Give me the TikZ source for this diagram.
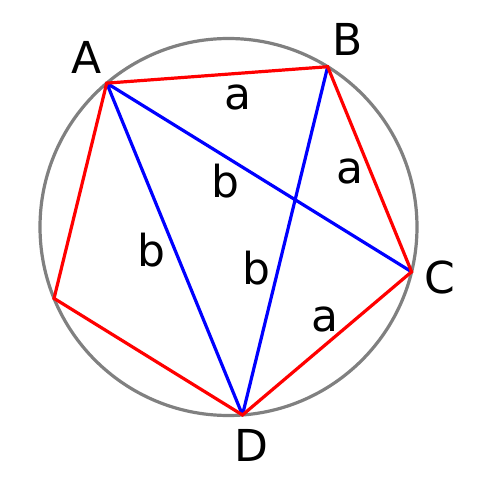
\documentclass[tikz,border=0pt]{standalone}
\usepackage{fontspec}
\setmainfont{DejaVu Sans}
\begin{document}
\begin{tikzpicture}[x=1pt, y=1pt, line width=3.2pt,
	etiquette/.style={inner sep=0pt, font=\fontsize{44}{50}\selectfont}]
	%\draw[help lines] (-228,-253) grid (251,227);
	\useasboundingbox (-228.5,-253) rectangle (251.5,227);
	\draw[gray] (0,0) circle (188.5);
	\coordinate (A) at (130.25:188.5);
	\coordinate (B) at (58.25:188.5);
	\coordinate (C) at (-13.75:188.5);
	\coordinate (D) at (-85.75:188.5);
	\coordinate (E) at (-157.75:188.5);
	\draw[blue] (A) -- (C) (A) -- (D) (B) -- (D);
	\draw[red] (A) -- (B) -- (C) -- (D) -- (E) -- cycle;
	\path
		(-142.3,169.1) node[etiquette] (lA) {A}
		(118.7,187.8) node[etiquette] (lB) {B}
		(211.5,-50.5) node[etiquette] (lC) {C}
		(23.2,-218.8) node[etiquette] (lD) {D}
		(9.8,130) node[etiquette] (ab) {a}
		(121,55.3) node[etiquette] (bc) {a}
		(96.5,-92) node[etiquette] (cd) {a}
		(-3.2,46) node[etiquette] (ac) {b}
		(-77.2,-23.5) node[etiquette] (ad) {b}
		(27.8,-41) node[etiquette] (bd) {b}
	;
\end{tikzpicture}
\end{document}
